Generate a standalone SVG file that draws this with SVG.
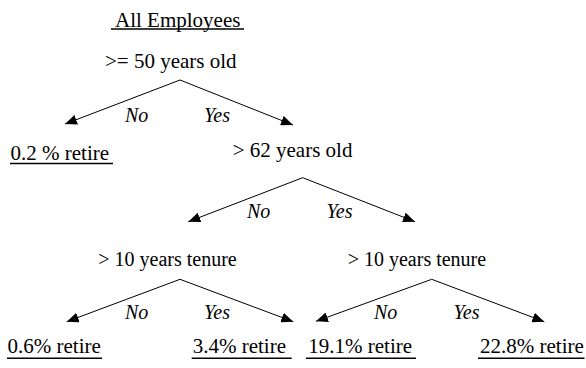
<svg xmlns="http://www.w3.org/2000/svg" width="586" height="368" viewBox="0 0 586 368">
<style>
.ul{stroke:#000;stroke-width:1.4}
.arr{stroke:#000;stroke-width:1;fill:none;marker-end:url(#ah)}
</style>
<defs>
<marker id="ah" viewBox="0 0 12 10" refX="12" refY="5" markerWidth="12" markerHeight="10" markerUnits="userSpaceOnUse" orient="auto">
<path d="M0,0 L12,5 L0,10 z" fill="#000"/>
</marker>
</defs>
<rect width="586" height="368" fill="#fff"/>
<g font-size="21" fill="#000" font-family="Liberation Serif, Times New Roman, serif">
<g id="connectors">
<path class="arr" d="M180,80 L65,124"/>
<path class="arr" d="M180,80 L293,125"/>
<path class="arr" d="M302.7,177.7 L188.3,221.7"/>
<path class="arr" d="M302.7,177.7 L415,221.7"/>
<path class="arr" d="M180,279.3 L66.7,321.7"/>
<path class="arr" d="M180,279.3 L293.3,321.7"/>
<path class="arr" d="M431.7,279.3 L316,321.3"/>
<path class="arr" d="M431.7,279.3 L544.3,321.7"/>
<g font-style="italic" font-size="20">
<text x="125" y="122">No</text>
<text x="204" y="122">Yes</text>
<text x="247" y="218">No</text>
<text x="326.5" y="218">Yes</text>
<text x="125" y="319">No</text>
<text x="204" y="319">Yes</text>
<text x="374" y="319">No</text>
<text x="453.5" y="319">Yes</text>
</g>
</g>
<g id="root">
<text x="115" y="26.5">All Employees</text>
<line class="ul" x1="111" y1="29" x2="244" y2="29"/>
</g>
<g id="age50">
<text x="105" y="67.5">&gt;= 50 years old</text>
</g>
<g id="leaf-0.2">
<text x="10.5" y="159.5">0.2 % retire</text>
<line class="ul" x1="10" y1="163.5" x2="113" y2="163.5"/>
</g>
<g id="age62">
<text x="232.7" y="157">&gt; 62 years old</text>
</g>
<g id="tenure-left">
<text x="98.3" y="266" font-size="20">&gt; 10 years tenure</text>
</g>
<g id="tenure-right">
<text x="347.7" y="266" font-size="20">&gt; 10 years tenure</text>
</g>
<g id="leaf-0.6">
<text x="7.5" y="353.3">0.6% retire</text>
<line class="ul" x1="7" y1="358.3" x2="102" y2="358.3"/>
</g>
<g id="leaf-3.4">
<text x="192.7" y="353.3">3.4% retire</text>
<line class="ul" x1="191.7" y1="358.3" x2="291.7" y2="358.3"/>
</g>
<g id="leaf-19.1">
<text x="308.3" y="353.3">19.1% retire</text>
<line class="ul" x1="306" y1="358.3" x2="416" y2="358.3"/>
</g>
<g id="leaf-22.8">
<text x="480" y="353.3">22.8% retire</text>
<line class="ul" x1="478" y1="358.3" x2="584.5" y2="358.3"/>
</g>
</g>
</svg>
